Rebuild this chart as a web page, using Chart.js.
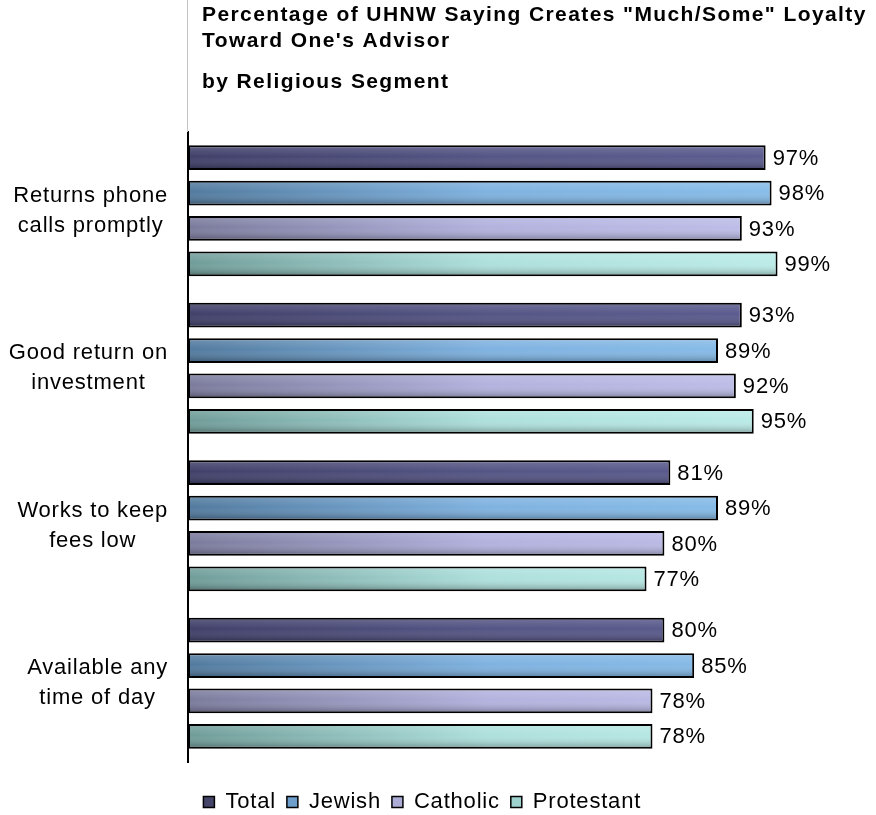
<!DOCTYPE html>
<html>
<head>
<meta charset="utf-8">
<title>UHNW loyalty by religious segment</title>
<script src="https://cdn.jsdelivr.net/npm/chart.js@4.4.1/dist/chart.umd.min.js"></script>
<style>
  html, body { margin: 0; padding: 0; background: #ffffff; }
  #wrap { width: 876px; height: 815px; }
</style>
</head>
<body>
<div id="wrap"><canvas id="chart" width="876" height="815"></canvas></div>
<script>
// ---- data ----
const categories = [
  ['Returns phone', 'calls promptly'],
  ['Good return on', 'investment'],
  ['Works to keep', 'fees low'],
  ['Available any', 'time of day']
];
const seriesNames = ['Total', 'Jewish', 'Catholic', 'Protestant'];
const totalValues = [97, 93, 81, 80];
const jewishValues = [98, 89, 89, 85];
const catholicValues = [93, 92, 80, 78];
const protestantValues = [99, 95, 77, 78];
const valueRange = [0, 100];
const titleLines = ['Percentage of UHNW Saying Creates "Much/Some" Loyalty', "Toward One's Advisor"];
const subtitleText = 'by Religious Segment';

// ---- styling ----
const FONT = '"Liberation Sans", Arial, Helvetica, sans-serif';
const TEXT_SIZE = 22;
const TEXT_SPACING = '0.8px';
const seriesShades = [
  ['#40406a', '#555585', '#5c5c90'],
  ['#527a9e', '#7fb2e0', '#88bde9'],
  ['#7a7a9c', '#b2b2de', '#bebee9'],
  ['#6f9c98', '#aee0dc', '#bcece8']
];
const legendSwatches = ['#45456a', '#6e9ecb', '#acacd6', '#9ed2ce'];

function horizontalFill(i) {
  return (ctx) => {
    const area = ctx.chart.chartArea;
    if (!area) return seriesShades[i][1];
    const g = ctx.chart.ctx.createLinearGradient(area.left, 0, area.right, 0);
    g.addColorStop(0, seriesShades[i][0]);
    g.addColorStop(0.5, seriesShades[i][1]);
    g.addColorStop(1, seriesShades[i][2]);
    return g;
  };
}

const seriesValues = [totalValues, jewishValues, catholicValues, protestantValues];
const datasets = seriesNames.map((name, i) => ({
  label: name,
  data: seriesValues[i],
  backgroundColor: horizontalFill(i),
  borderColor: '#000000',
  borderWidth: 2,
  borderSkipped: false,
  categoryPercentage: 0.9,
  barPercentage: 0.7
}));

// keeps the wide text tracking on the drawing context (canvas resizes reset it)
const textTracking = {
  id: 'textTracking',
  beforeUpdate(chart) { chart.ctx.letterSpacing = TEXT_SPACING; },
  beforeDraw(chart) { chart.ctx.letterSpacing = TEXT_SPACING; }
};

// soft top-light / bottom-dark sheen on every bar
const barSheen = {
  id: 'barSheen',
  afterDatasetsDraw(chart) {
    const ctx = chart.ctx;
    chart.data.datasets.forEach((ds, di) => {
      const meta = chart.getDatasetMeta(di);
      meta.data.forEach((bar) => {
        const p = bar.getProps(['x', 'y', 'base', 'height'], true);
        const inset = 2;
        const left = Math.min(p.base, p.x) + inset;
        const right = Math.max(p.base, p.x) - inset;
        const top = p.y - p.height / 2 + inset;
        const bottom = p.y + p.height / 2 - inset;
        const g = ctx.createLinearGradient(0, top, 0, bottom);
        g.addColorStop(0, 'rgba(255,255,255,0.14)');
        g.addColorStop(0.45, 'rgba(255,255,255,0)');
        g.addColorStop(1, 'rgba(0,0,0,0.24)');
        ctx.save();
        ctx.fillStyle = g;
        ctx.fillRect(left, top, right - left, bottom - top);
        ctx.restore();
      });
    });
  }
};

// percentage labels at the end of each bar
const valueLabels = {
  id: 'valueLabels',
  afterDatasetsDraw(chart) {
    const ctx = chart.ctx;
    ctx.save();
    ctx.font = TEXT_SIZE + 'px ' + FONT;
    ctx.fillStyle = '#000000';
    ctx.textAlign = 'left';
    ctx.textBaseline = 'middle';
    ctx.letterSpacing = TEXT_SPACING;
    chart.data.datasets.forEach((ds, di) => {
      const meta = chart.getDatasetMeta(di);
      meta.data.forEach((bar, j) => {
        ctx.fillText(ds.data[j] + '%', bar.x + 7, bar.y + 1);
      });
    });
    ctx.restore();
  }
};

// title block, faint guide above the axis, and the category captions
const frameText = {
  id: 'frameText',
  afterDraw(chart) {
    const ctx = chart.ctx;
    const area = chart.chartArea;
    ctx.save();

    ctx.strokeStyle = '#c4c4c4';
    ctx.lineWidth = 1;
    ctx.beginPath();
    ctx.moveTo(area.left - 0.5, 0);
    ctx.lineTo(area.left - 0.5, area.top);
    ctx.stroke();

    ctx.fillStyle = '#000000';
    ctx.font = 'bold 21px ' + FONT;
    ctx.textAlign = 'left';
    ctx.textBaseline = 'alphabetic';
    ctx.letterSpacing = '1.4px';
    ctx.fillText(titleLines[0], 202, 21);
    ctx.fillText(titleLines[1], 202, 47);
    ctx.fillText(subtitleText, 202, 88);

    const yScale = chart.scales.y;
    ctx.font = TEXT_SIZE + 'px ' + FONT;
    ctx.letterSpacing = TEXT_SPACING;
    ctx.textAlign = 'center';
    ctx.textBaseline = 'middle';
    const lineGap = 30;
    const rightEdge = area.left - 20;
    chart.data.labels.forEach((lines, i) => {
      const yc = yScale.getPixelForTick(i);
      const w = Math.max(...lines.map((t) => ctx.measureText(t).width));
      const cx = rightEdge - w / 2;
      lines.forEach((t, k) => {
        ctx.fillText(t, cx, yc + (k - (lines.length - 1) / 2) * lineGap);
      });
    });
    ctx.restore();
  }
};

new Chart(document.getElementById('chart'), {
  type: 'bar',
  data: { labels: categories, datasets: datasets },
  plugins: [textTracking, barSheen, valueLabels, frameText],
  options: {
    indexAxis: 'y',
    responsive: false,
    animation: false,
    layout: { padding: { top: 132, left: 61, right: 92.5, bottom: -8 } },
    scales: {
      x: {
        type: 'linear',
        min: valueRange[0],
        max: valueRange[1],
        ticks: { display: false },
        grid: { display: false, drawTicks: false },
        border: { display: false },
        afterFit(scale) { scale.height = 18; }
      },
      y: {
        type: 'category',
        ticks: { display: false },
        grid: { display: false, drawTicks: false },
        border: { display: true, color: '#000000', width: 2 },
        afterFit(scale) { scale.width = 127; }
      }
    },
    plugins: {
      title: { display: false },
      tooltip: { enabled: false },
      legend: {
        display: true,
        position: 'bottom',
        labels: {
          color: '#000000',
          font: { family: FONT, size: TEXT_SIZE, lineHeight: 1 },
          boxWidth: 11,
          boxHeight: 11,
          padding: 11,
          generateLabels(chart) {
            const items = Chart.defaults.plugins.legend.labels.generateLabels(chart);
            return items.map((it, i) => Object.assign(it, {
              fillStyle: legendSwatches[i],
              strokeStyle: '#000000',
              lineWidth: 1.5
            }));
          }
        }
      }
    }
  }
});
</script>
</body>
</html>
